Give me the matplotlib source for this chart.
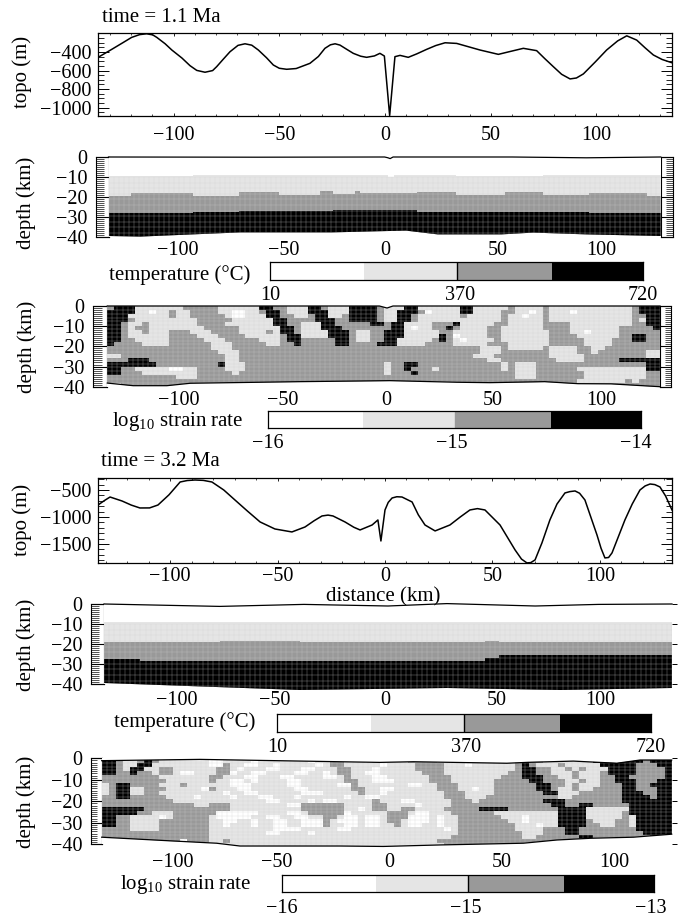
import numpy as np
import matplotlib
matplotlib.use('Agg')
import matplotlib.pyplot as plt
import matplotlib.ticker as mticker
from matplotlib.colors import ListedColormap
from matplotlib.patches import Polygon

plt.rcParams.update({
    'font.family': 'Liberation Serif',
    'font.size': 14.5,
    'mathtext.fontset': 'custom',
    'mathtext.rm': 'Liberation Serif',
    'mathtext.default': 'rm',
    'axes.linewidth': 0.9,
})

W, H = 678, 916
MINUS = '\u2212'

# topography, time 1 (km, m)
topo1_x = [-135.1, -129.2, -124, -119.8, -116, -112.7, -109.8, -107.9, -104, -100.8, -96, -92.2, -89, -85.1,
           -81.5, -79.6, -76.5, -73.3, -69.5, -66.2, -63, -59.9, -56, -52.8, -50, -46.5, -42, -35.5, -31.5,
           -28.4, -25.8, -23.6, -21.3, -18, -15, -11.5, -8.7, -5, -2.4, -0.3, 2.2, 4.7, 7.1, 11, 15, 19.7,
           24, 28.4, 33.9, 44.9, 53.6, 59, 65.4, 71.7, 75.5, 79.6, 83.5, 87.5, 90.5, 93.8, 99.5, 104.8,
           110, 114.3, 119, 123, 126.9, 131, 135.6]
topo1_y = [-450, -371, -300, -242, -212, -203, -215, -242, -310, -378, -465, -547, -598, -618,
           -600, -558, -478, -397, -328, -311, -326, -378, -462, -540, -575, -586, -578, -522, -448,
           -360, -322, -311, -325, -372, -414, -445, -457, -442, -414, -443, -1085, -450, -436, -457, -420, -371,
           -330, -300, -307, -378, -425, -395, -360, -385, -470, -558, -640, -690, -680, -636, -505, -378,
           -280, -225, -271, -355, -432, -480, -515]

# topography, time 2 (km, m)
topo2_x = [-133.5, -130.5, -127.9, -122.3, -118, -114, -109.5, -105.6, -100.5, -95.3, -92, -88.4, -84.5, -80.5,
           -75, -69.8, -64, -58.1, -51.2, -43.3, -37.2, -33, -29.3, -26.5, -24.2, -18.6, -14.5, -11.6, -6,
           -3.3, -1.9, 0, 1.5, 3.3, 5.5, 7.9, 12.6, 15.5, 18.6, 23.3, 30.2, 35, 39.5, 43, 46.5, 53.5, 60.5,
           63.5, 66, 67.8, 69.8, 73, 76.7, 80, 83.7, 86, 88.4, 90.5, 93, 98.6, 100.5, 102.3, 104, 105.6,
           108.5, 111.6, 115, 118.6, 121, 123.3, 125.5, 127.9, 130.5, 133.5]
topo2_y = [-778, -695, -630, -704, -780, -833, -832, -778, -590, -352, -325, -315, -322, -352,
           -500, -685, -890, -1092, -1222, -1277, -1185, -1070, -981, -965, -981, -1092, -1190, -1240, -1148,
           -1055, -1444, -870, -730, -648, -625, -630, -722, -960, -1148, -1258, -1148, -1000, -870, -845, -870,
           -1148, -1610, -1780, -1850, -1845, -1795, -1480, -1055, -760, -555, -530, -518, -560, -685, -1332,
           -1580, -1758, -1750, -1665, -1370, -1055, -760, -500, -425, -389, -400, -444, -610, -870]

# temperature panel, time 1: layer tops (km) on step edges
temp1_edges = [-130, -119.4, -90.4, -68.4, -49.6, -30.4, -24.1, -13.9, -11.6, 1.5, 4.5, 15.1, 33.6,
               56.7, 74.7, 96.4, 123.4, 130]
temp1_light = [-9.3, -9.3, -9.2, -9.2, -9, -9, -9, -9, -9, -9.9, -9, -9.2, -9.3, -9.3, -9.2, -9, -9.2]
temp1_mid = [-19.3, -17.8, -19.3, -17.3, -19, -16.8, -18.6, -16.8, -18.2, -18.2, -18.2, -17.3, -19,
             -17.7, -19, -17.8, -19.3]
temp1_black = [-28.2, -28.2, -27.6, -27, -27, -26.8, -26.6, -26.6, -26.5, -26.5, -26.5, -27.5, -27.7,
               -27.7, -27.7, -28, -28.2]
temp1_surf_x = [-130, -60, 0, 1.6, 2.6, 4, 60, 95, 130]
temp1_surf_top = [0, -0.1, 0, -0.4, -0.8, 0, 0, -0.4, 0]
temp1_base_x = [-130, -115, -68, -25, 10, 25, 55, 70, 95, 130]
temp1_base_y = [-39.5, -39.8, -37.7, -37.7, -36.8, -38.7, -38.7, -37.8, -38.7, -39.5]

# temperature panel, time 2
temp2_edges = [-135, -118, -80, -42, 10, 46, 53, 82, 135]
temp2_light = [-9, -9, -9, -8.8, -9, -9, -9, -8.8]
temp2_mid = [-19, -19, -18.6, -19, -19, -18.6, -19, -19]
temp2_black = [-27.5, -28.5, -28.5, -28.5, -28.5, -27, -25.5, -25.5]
temp2_surf_x = [-135, -80, -40, 0, 28, 70, 100, 135]
temp2_surf_top = [0, -1.2, -0.2, -1, 0.2, -1, -0.2, 0]
temp2_base_x = [-135, -95, -42, 28, 82, 135]
temp2_base_y = [-39.5, -41, -43, -42, -43, -42]

# strain rate classes, time 1 (0 white, 1 light, 2 mid, 3 black)
strain1_rows = [
    "2333111111 1222221111 1133221113 3211133332 1113311111 1331111121 1112111111 1111112333",
    "3333110112 1122221100 1123321113 3311133332 1133320111 1331111221 1012111011 1111112333",
    "3331111112 1122222100 1113322112 3311233332 1133211111 1211111211 0112111111 1111112233",
    "3332111111 1112222211 1111332222 3332233332 1133211111 1111111211 1112111111 1111112133",
    "3321121111 1112222111 1111332211 1332222233 2331111222 3111112211 1112222111 1111112233",
    "3321221111 1111222221 1111133211 1333222222 2331011223 2111122111 1112222111 1111222223",
    "3321121112 2211122221 1112133211 1133321122 3331111122 1111122111 1111222110 1111222222",
    "3321111112 2221112222 1111123311 1133321122 3331111132 0111122111 1111222211 1111223322",
    "3322111112 2222111222 2211123322 2223321122 3311111232 1011112111 1111222221 1112223322",
    "3222211112 2222211122 2221122322 2223322223 3311112222 1111122211 1111222221 1112222222",
    "2222222222 2222211122 2222222222 2222222222 2222222222 2222111211 1112111122 1122222222",
    "2222222222 2222221112 2222222222 2222222222 2222222222 2222111222 2222111122 1222222211",
    "1122222222 2222222112 2222222222 2222222222 2222222222 2221112222 2222111112 2222222211",
    "2223332222 2222222112 2222222222 2222222222 2222222222 2222211222 2222211112 2222333333",
    "3333333222 2222223111 2222222222 2222222222 1223322222 2222222121 1122222222 2222222233",
    "3322111110 0112222111 2222222222 2222222222 1223222122 2222222121 1122222211 1111111133",
    "3322211111 1112222212 2222222222 2222222222 1222322222 2222222221 1122222221 1111111122",
    "2222222222 1112222222 2222222222 2222222222 2222222222 2222222221 1122222221 1111111122",
    "2222222222 2222222222 2222222222 2222222222 2222222222 2222222222 2222222211 1111121222",
    "1122222222 2221222222 2222222222 2222222222 2222222222 2222122222 2222222222 2222222222",
]
strain1_surf_x = [-130, -2, 1.6, 4.4, 130]
strain1_surf_top = [0, 0, -1, 0, 0]
strain1_base_x = [-130, -117.8, -102, -91, -39.3, 3, 34.4, 50, 75.7, 91.4, 107, 130]
strain1_base_y = [-38.2, -39.5, -39.5, -38.3, -37.5, -37, -37.8, -38, -37.5, -38.5, -38.6, -40]

# strain rate classes, time 2
strain2_rows = [
    "3321123211 1111100111 1011111110 1122111011 1112222111 1111111123 2211111113 3333332333",
    "3321133111 1111100211 0011011111 0122111110 1111222211 1011111123 2111211111 3333322233",
    "3321331122 1111112210 1110011100 1112211101 1111222211 1111111123 3221121211 1333322223",
    "3322322122 1001112201 1001111001 1012211001 1111122211 1111111223 3221112111 2333322223",
    "2222222211 1111122111 0011100111 1001211100 1111112221 1111112223 3322112111 2233222223",
    "2222222221 1111121100 1011110011 1111221100 0111112221 1111122222 3322211211 2233322233",
    "1233222211 1211111100 0111110011 1110021111 1110011222 1111122222 2332212111 2223322333",
    "1233112221 1111021110 0111111001 1111122110 0111111222 1101122222 2332112112 2223322233",
    "1233112211 1111111011 0011111100 0111112110 1111111122 2111122222 2233111222 2223332233",
    "2233222221 1110111101 1100111011 1111011001 1111111122 2111222222 2222112222 2223333233",
    "2222222222 1111111111 1110011110 1001111121 1100111112 2212222222 2233322222 2223333333",
    "2222222222 2221122211 1111110022 2222111122 1111011112 2222222222 2223322332 2222333333",
    "3333332222 2222222211 1111111122 2222110122 1122111122 2223333222 2222333311 1111333333",
    "3333322111 2222220000 0011110012 2222011111 2221001112 2222211111 1111333311 1112333333",
    "3322111101 2222210000 0110011001 1221001001 2220001011 2222221110 1111333311 1112133333",
    "3322111122 2222211001 1011001100 0210001001 2210001011 2222222110 1111333321 1122133333",
    "3322111122 2222211011 1011001100 0211001001 1210011011 2222222211 1011333322 1122133333",
    "2222111122 2222211111 1111000011 1110011111 1111111101 2222222211 1122233222 2222233333",
    "2222222222 2222211111 1110011110 1111111111 1111111111 2222222221 1122233222 2222223333",
    "2222222222 2222211111 1111111111 1111111111 1111111112 2222222221 1222222332 2222222333",
    "2222222222 2022211211 1111111111 1111111111 1111111222 2222222222 2222222332 2222222222",
    "2222222222 2222111111 1111111111 1111111111 1111111122 2222222222 2222222222 2222222222",
]
strain2_surf_x = [-135, -88.5, -22.1, -3.2, 12.6, 56.9, 66.4, 88.4, 109, 120, 135]
strain2_surf_top = [-1.1, -0.5, -1.6, -1.9, -1.6, -2.3, -1.9, -1.3, -2.3, -0.8, -0.8]
strain2_base_x = [-135, -104.3, -80.6, -69.5, -22.1, -1.6, 25.3, 64.7, 80.6, 96.4, 116.9, 135]
strain2_base_y = [-36.7, -38.3, -39.5, -40.8, -40.8, -41, -40.3, -39.5, -38, -37.2, -36.7, -35.3]

# class boundaries of the colour bars, as a fraction of the bar length
cbar_bounds = [0, 0.252, 0.5, 0.757, 1]

depth_ticks = [0, -10, -20, -30, -40]
depth_labels = ['0', MINUS + '10', MINUS + '20', MINUS + '30', MINUS + '40']
dist_labels = [MINUS + '100', MINUS + '50', '0', '50', '100']

GREYS = ['white', '#e5e5e5', '#999999', 'black']
MESH_LINE = '#d0d0d0'
cmap = ListedColormap(GREYS)

fig = plt.figure(figsize=(W / 100, H / 100), dpi=100)


def px_axes(left, right, top, bottom):
    return fig.add_axes([left / W, 1 - bottom / H, (right - left) / W, (bottom - top) / H])


def px_text(x, y, s, **kw):
    kw.setdefault('ha', 'center')
    kw.setdefault('va', 'center')
    fig.text(x / W, 1 - y / H, s, **kw)


def topo_panel(box, xs, ys, ylim, xlim, yticks, ylabels, yminor, pad):
    ax = px_axes(*box)
    ax.plot(xs, ys, color='black', lw=1.1)
    ax.set_xlim(*xlim)
    ax.set_ylim(*ylim)
    ax.set_xticks([-100, -50, 0, 50, 100], dist_labels)
    ax.set_yticks(yticks, ylabels)
    ax.xaxis.set_minor_locator(mticker.MultipleLocator(10))
    ax.yaxis.set_minor_locator(mticker.MultipleLocator(yminor))
    ax.tick_params(axis='x', which='major', direction='in', top=True, length=2.5, width=0.6, pad=pad)
    ax.tick_params(axis='x', which='minor', direction='in', top=True, length=1.5, width=0.5)
    ax.tick_params(axis='y', which='major', direction='in', right=True, length=8, width=0.7, pad=4.5)
    ax.tick_params(axis='y', which='minor', direction='in', right=True, length=4, width=0.6)
    return ax


def depth_strip(box, side):
    # the ruled strip beside a mesh panel
    ax = px_axes(*box)
    ax.set_xlim(0, 1)
    ax.set_ylim(-40, 0)
    ax.set_xticks([])
    ax.set_yticks(depth_ticks, depth_labels if side == 'left' else [])
    ax.yaxis.set_minor_locator(mticker.MultipleLocator(1))
    width_pt = (box[1] - box[0]) * 0.72
    left = side == 'left'
    ax.tick_params(axis='y', which='major', direction='in', left=left, right=not left,
                   length=width_pt, width=0.8, pad=6)
    ax.tick_params(axis='y', which='minor', direction='in', left=left, right=not left,
                   length=width_pt * 0.6, width=0.6, color='#333333')
    for spine in ax.spines.values():
        spine.set_linewidth(0.8)
    return ax


def mesh_axes(box, xlim, tick_pos, pad, right_ticks):
    ax = px_axes(*box)
    ax.set_xlim(*xlim)
    ax.set_ylim(-40, 0)
    ax.set_xticks(tick_pos, dist_labels)
    ax.tick_params(axis='x', length=0, pad=pad)
    ax.set_yticks(depth_ticks if right_ticks else [], [])
    ax.tick_params(axis='y', left=False, right=right_ticks, length=3.5, width=0.7)
    for name, spine in ax.spines.items():
        spine.set_visible(False)
    return ax


def clip_to_surface(ax, arts, surf_x, surf_top, base_x, base_y):
    outline = list(zip(surf_x, surf_top)) + list(zip(base_x[::-1], base_y[::-1]))
    poly = Polygon(outline, closed=True, transform=ax.transData, facecolor='none', edgecolor='none')
    ax.add_patch(poly)
    poly.set_clip_on(False)
    for art in arts:
        art.set_clip_path(poly)
        art.set_clip_box(fig.bbox)


def mesh_lines(ax, x0, x1, y0, y1, nx, ny):
    xg = np.linspace(x0, x1, nx)
    yg = np.linspace(y0, y1, ny)
    return [ax.vlines(xg, y1, y0, color=MESH_LINE, lw=0.2),
            ax.hlines(yg, x0, x1, color=MESH_LINE, lw=0.2)]


def temp_panel(ax, edges, light, mid, black, surf_x, surf_top, base_x, base_y, nx, ny):
    edges = np.array(edges)
    bot = min(base_y) - 1
    tops = [np.array(light), np.array(mid), np.array(black)]
    arts = []
    for i, top in enumerate(tops):
        art = ax.fill_between(edges, np.r_[top, top[-1]], bot, step='post', color=GREYS[i + 1], lw=0)
        arts.append(art)
    # mesh lines below the first isotherm
    arts += mesh_lines(ax, edges[0], edges[-1], -10, bot, nx, ny)
    clip_to_surface(ax, arts, surf_x, surf_top, base_x, base_y)
    ax.plot(surf_x, surf_top, color='black', lw=0.9, clip_on=False)


def strain_panel(ax, rows, xlim, ylim, surf_x, surf_top, base_x, base_y, nx, ny):
    grid = np.array([[int(c) for c in r.replace(' ', '')[:80].ljust(80, '2')] for r in rows])
    xe = np.linspace(xlim[0], xlim[1], grid.shape[1] + 1)
    ye = np.linspace(ylim[0], ylim[1], grid.shape[0] + 1)
    mesh = ax.pcolormesh(xe, ye, grid, cmap=cmap, vmin=-0.5, vmax=3.5)
    arts = [mesh] + mesh_lines(ax, xlim[0], xlim[1], ylim[0], ylim[1], nx, ny)
    clip_to_surface(ax, arts, surf_x, surf_top, base_x, base_y)
    ax.plot(surf_x, surf_top, color='black', lw=0.9, clip_on=False)
    ax.plot(base_x, base_y, color='black', lw=0.9, clip_on=False)


def colour_bar(box, tick_pos, labels, line_col):
    ax = px_axes(*box)
    ax.pcolormesh(cbar_bounds, [0, 1], [[0, 1, 2, 3]], cmap=cmap, vmin=-0.5, vmax=3.5)
    ax.axvline(0.5, color=line_col, lw=1.0)
    ax.set_xlim(0, 1)
    ax.set_ylim(0, 1)
    ax.set_yticks([])
    ax.set_xticks(tick_pos, labels)
    ax.tick_params(axis='x', length=0, pad=4.5)
    for spine in ax.spines.values():
        spine.set_linewidth(0.9)


# time 1
px_text(101.5, 17, 'time = 1.1 Ma', ha='left', fontsize=15)
topo_panel((98, 672, 33.5, 116), topo1_x, topo1_y, (-1090, -200), (-135.7, 135.7),
           [-400, -600, -800, -1000], [MINUS + '400', MINUS + '600', MINUS + '800', MINUS + '1000'], 50, 7)
px_text(22, 72, 'topo (m)', rotation=90, fontsize=15)

depth_strip((96, 108.5, 157, 237), 'left')
depth_strip((660.7, 673, 157, 237), 'right')
ax = mesh_axes((108.5, 660.7, 157, 237), (-130, 130), [-97.3, -47.3, 0.4, 53.4, 102.2], 3, False)
temp_panel(ax, temp1_edges, temp1_light, temp1_mid, temp1_black, temp1_surf_x, temp1_surf_top,
           temp1_base_x, temp1_base_y, 110, 12)
px_text(26, 203, 'depth (km)', rotation=90, fontsize=15)

px_text(180, 275, 'temperature (\u00b0C)', fontsize=15)
colour_bar((270, 643, 262, 279.5), [0, 0.51, 1], ['10', '370', '720'], 'black')

depth_strip((93, 107.3, 306, 386.7), 'left')
depth_strip((660, 670.7, 306, 386.7), 'right')
ax = mesh_axes((107.3, 660, 306, 386.7), (-130, 130), [-96.3, -47.3, 1.1, 51.4, 102.2], 3, False)
strain_panel(ax, strain1_rows, (-130, 130), (0, -40), strain1_surf_x, strain1_surf_top,
             strain1_base_x, strain1_base_y, 110, 22)
px_text(27, 347, 'depth (km)', rotation=90, fontsize=15)

px_text(178, 421, 'log$_{10}$ strain rate', fontsize=15)
colour_bar((267.7, 641, 411, 428), [-0.004, 0.49, 0.985], [MINUS + '16', MINUS + '15', MINUS + '14'], '#999999')

# time 2
px_text(101, 462, 'time = 3.2 Ma', ha='left', fontsize=15)
topo_panel((98, 672, 478, 563), topo2_x, topo2_y, (-1852, -278), (-133.5, 133.5),
           [-500, -1000, -1500], [MINUS + '500', MINUS + '1000', MINUS + '1500'], 100, 3)
px_text(22, 520, 'topo (m)', rotation=90, fontsize=15)
px_text(383, 597, 'distance (km)', fontsize=15)

depth_strip((91, 104, 604, 684), 'left')
ax = mesh_axes((104, 672, 604, 684), (-135, 135), [-100.3, -53.7, -1.4, 51.8, 100.8], 5, True)
temp_panel(ax, temp2_edges, temp2_light, temp2_mid, temp2_black, temp2_surf_x, temp2_surf_top,
           temp2_base_x, temp2_base_y, 110, 13)
px_text(26, 645, 'depth (km)', rotation=90, fontsize=15)

px_text(185, 722, 'temperature (\u00b0C)', fontsize=15)
colour_bar((277, 651, 714, 731.5), [0, 0.505, 1], ['10', '370', '720'], 'black')

depth_strip((91, 101.7, 758.3, 844.3), 'left')
ax = mesh_axes((101.7, 671.7, 758.3, 844.3), (-135, 135), [-101.3, -52, 1.1, 54.5, 107.7], 6, True)
strain_panel(ax, strain2_rows, (-135, 135), (-0.3, -41.2), strain2_surf_x, strain2_surf_top,
             strain2_base_x, strain2_base_y, 110, 24)
px_text(26, 802, 'depth (km)', rotation=90, fontsize=15)

px_text(186, 884, 'log$_{10}$ strain rate', fontsize=15)
colour_bar((281.7, 654.3, 875, 892.3), [0, 0.495, 0.99], [MINUS + '16', MINUS + '15', MINUS + '13'], 'black')

fig.savefig('out.png', dpi=100)
